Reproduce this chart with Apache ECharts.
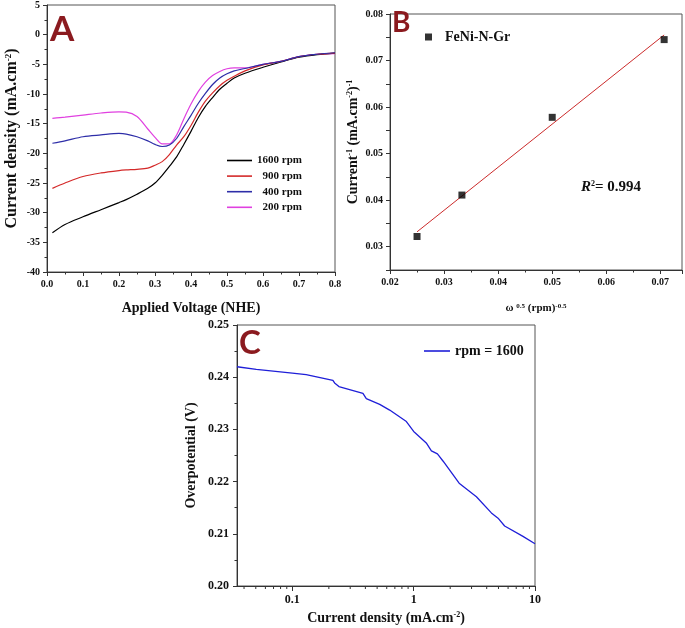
<!DOCTYPE html>
<html><head><meta charset="utf-8">
<script src="https://cdn.jsdelivr.net/npm/echarts/dist/echarts.min.js"></script>
<style>html,body{margin:0;padding:0;background:#fff}#c{width:685px;height:628px}</style>
</head><body><div id="c"></div>
<script>
// ---- Panel A: LSV curves ----
const voltage = [0.015,0.05,0.1,0.15,0.2,0.22,0.25,0.28,0.3,0.32,0.34,0.36,0.38,0.4,0.42,0.44,0.46,0.48,0.5,0.52,0.55,0.6,0.65,0.7,0.75,0.8];
const j1600 = [-33.4,-32.0,-30.7,-29.5,-28.3,-27.8,-26.9,-25.9,-25.0,-23.7,-22.2,-20.6,-18.5,-16.3,-14.0,-12.1,-10.6,-9.2,-8.2,-7.3,-6.5,-5.5,-4.6,-3.8,-3.35,-3.1];
const j900  = [-25.9,-25.0,-23.9,-23.3,-22.9,-22.8,-22.7,-22.5,-22.0,-21.4,-20.2,-18.6,-17.2,-15.3,-13.1,-11.2,-9.8,-8.6,-7.7,-7.0,-6.1,-5.1,-4.5,-3.7,-3.3,-3.1];
const j400  = [-18.3,-17.9,-17.2,-16.9,-16.65,-16.75,-17.2,-17.9,-18.5,-18.85,-18.6,-17.5,-15.5,-13.6,-11.6,-9.9,-8.4,-7.3,-6.6,-6.1,-5.7,-5.0,-4.5,-3.7,-3.3,-3.05];
const j200  = [-14.1,-13.9,-13.55,-13.2,-13.0,-13.05,-13.8,-15.9,-17.3,-18.4,-18.4,-16.9,-14.2,-11.7,-9.6,-8.0,-6.9,-6.2,-5.75,-5.6,-5.6,-5.0,-4.5,-3.7,-3.3,-3.2];
const seriesNamesA = ['1600 rpm','900 rpm','400 rpm','200 rpm'];
const xTicksA = [0,0.1,0.2,0.3,0.4,0.5,0.6,0.7,0.8];
const yTicksA = [-40,-35,-30,-25,-20,-15,-10,-5,0,5];

// ---- Panel B: Koutecky-Levich ----
const omega = [0.025,0.0333,0.05,0.0707];
const invCurrent = [0.0322,0.0411,0.0578,0.0745];
const fitX = [0.025,0.0707];
const fitY = [0.0332,0.0755];

// ---- Panel C: Tafel ----
const currentDensity = [0.035,0.0505,0.1,0.13,0.216,0.223,0.242,0.382,0.407,0.525,0.634,0.871,1,1.27,1.40,1.57,1.75,2.37,3.29,4.37,4.96,5.62,7.96,10];
const overpotential = [0.2420,0.2415,0.2408,0.2405,0.2394,0.2389,0.2382,0.2369,0.2359,0.2348,0.2337,0.2315,0.2296,0.2274,0.2259,0.2253,0.2239,0.2197,0.2171,0.2140,0.2130,0.2115,0.2095,0.2081];
const minorTicksC = [0.04,0.05,0.06,0.07,0.08,0.09,0.2,0.3,0.4,0.5,0.6,0.7,0.8,0.9,2,3,4,5,6,7,8,9];

const pairs = (xs, ys) => xs.map((x, i) => [x, ys[i]]);
const SERIF = 'Liberation Serif';
const axisCol = '#333';
const labelStyle = (size) => ({ color: '#111', fontFamily: SERIF, fontWeight: 'bold', fontSize: size });
const sup = (size) => ({ fontFamily: SERIF, fontWeight: 'bold', fontSize: size, verticalAlign: 'top', color: '#111' });

function baseAxis(extra) {
  return Object.assign({
    axisLine: { show: true, onZero: false, lineStyle: { color: axisCol, width: 1 } },
    axisTick: { show: true, inside: false, length: 4, lineStyle: { color: axisCol } },
    minorTick: { show: true, splitNumber: 2, length: 2.5, lineStyle: { color: axisCol } },
    splitLine: { show: false },
    minorSplitLine: { show: false }
  }, extra);
}

const chart = echarts.init(document.getElementById('c'), null, { renderer: 'canvas' });
const colorsA = ['#000000', '#d42a2a', '#2e2ea8', '#e040e0'];
const dataA = [j1600, j900, j400, j200];

const option = {
  animation: false,
  backgroundColor: '#fff',
  grid: [
    { left: 47, top: 5, width: 288, height: 267, show: true, borderColor: '#555', borderWidth: 1 },
    { left: 390, top: 14, width: 292, height: 256, show: true, borderColor: '#555', borderWidth: 1 },
    { left: 237, top: 325, width: 298, height: 261, show: true, borderColor: '#555', borderWidth: 1 }
  ],
  xAxis: [
    baseAxis({ gridIndex: 0, type: 'value', min: xTicksA[0], max: xTicksA[xTicksA.length-1], interval: 0.1,
      axisLabel: Object.assign(labelStyle(10), { margin: 7, formatter: v => v.toFixed(1) }),
      name: 'Applied Voltage (NHE)', nameLocation: 'middle', nameGap: 29,
      nameTextStyle: labelStyle(14) }),
    baseAxis({ gridIndex: 1, type: 'value', min: 0.02, max: 0.074, interval: 0.01,
      axisLabel: Object.assign(labelStyle(10), { margin: 7, showMaxLabel: false,
        formatter: v => (Math.abs(v*100 - Math.round(v*100)) < 1e-6 ? v.toFixed(2) : '') }),
      name: 'ω {s|0.5} (rpm){s|-0.5}', nameLocation: 'middle', nameGap: 33,
      nameTextStyle: Object.assign(labelStyle(11), { rich: { s: sup(7) } }) }),
    baseAxis({ gridIndex: 2, type: 'log', logBase: 10, min: 0.035, max: 10,
      minorTick: { show: false },
      axisTick: { show: true, inside: false, length: 5, lineStyle: { color: axisCol } },
      axisLabel: Object.assign(labelStyle(12), { margin: 8, showMinLabel: false,
        formatter: v => { const l = Math.log10(v); if (Math.abs(l - Math.round(l)) > 1e-6) return ''; return v >= 1 ? String(Math.round(v)) : v.toFixed(1); } }),
      name: 'Current density (mA.cm{s|-2})', nameLocation: 'middle', nameGap: 25,
      nameTextStyle: Object.assign(labelStyle(14), { rich: { s: sup(8) } }) })
  ],
  yAxis: [
    baseAxis({ gridIndex: 0, type: 'value', min: yTicksA[0], max: yTicksA[yTicksA.length-1], interval: 5,
      axisLabel: Object.assign(labelStyle(10), { margin: 7, formatter: v => String(v) }),
      name: 'Current density (mA.cm{s|-2})', nameLocation: 'middle', nameGap: 27,
      nameTextStyle: Object.assign(labelStyle(16), { rich: { s: sup(9) } }) }),
    baseAxis({ gridIndex: 1, type: 'value', min: 0.025, max: 0.08, interval: 0.005,
      minorTick: { show: false },
      axisLabel: Object.assign(labelStyle(10), { margin: 7,
        formatter: v => (Math.abs(v*100 - Math.round(v*100)) < 1e-6 ? v.toFixed(2) : '') }),
      name: 'Current{s|-1} (mA.cm{s|-2}){s|-1}', nameLocation: 'middle', nameGap: 30,
      nameTextStyle: Object.assign(labelStyle(14), { rich: { s: sup(8) } }) }),
    baseAxis({ gridIndex: 2, type: 'value', min: 0.2, max: 0.25, interval: 0.01,
      axisLabel: Object.assign(labelStyle(12), { margin: 8, formatter: v => v.toFixed(2) }),
      name: 'Overpotential (V)', nameLocation: 'middle', nameGap: 39,
      nameTextStyle: labelStyle(14) })
  ],
  legend: [
    { data: seriesNamesA.map(n => ({ name: n, icon: 'rect' })), orient: 'vertical', left: 222, top: 149,
      itemWidth: 25, itemHeight: 1.6, itemGap: 2.6,
      textStyle: Object.assign(labelStyle(11), { lineHeight: 13 }),
      formatter: n => (n.length < 8 ? '\u2007' + n : n) },
    { data: ['FeNi-N-Gr'], left: 420, top: 25, itemWidth: 7, itemHeight: 7,
      textStyle: Object.assign(labelStyle(14), { padding: [0, 0, 0, 8] }) },
    { data: [{ name: 'rpm = 1600', icon: 'rect' }], left: 419, top: 339, itemWidth: 26, itemHeight: 1.6,
      textStyle: labelStyle(14) }
  ],
  series: [
    ...[3, 0, 1, 2].map(i => ({
      name: seriesNamesA[i], type: 'line', xAxisIndex: 0, yAxisIndex: 0,
      data: pairs(voltage, dataA[i]), symbol: 'none', smooth: 0.3,
      lineStyle: { color: colorsA[i], width: 1.2 }, itemStyle: { color: colorsA[i] },
      z: i === 3 ? 2 : 3
    })),
    { name: 'fit', type: 'line', xAxisIndex: 1, yAxisIndex: 1, data: pairs(fitX, fitY), symbol: 'none',
      lineStyle: { color: '#cc2b2b', width: 1 }, itemStyle: { color: '#cc2b2b' } },
    { name: 'FeNi-N-Gr', type: 'scatter', xAxisIndex: 1, yAxisIndex: 1, data: pairs(omega, invCurrent),
      symbol: 'rect', symbolSize: 7, itemStyle: { color: '#000' }, z: 5 },
    { name: 'rpm = 1600', type: 'line', xAxisIndex: 2, yAxisIndex: 2, data: pairs(currentDensity, overpotential),
      symbol: 'none', lineStyle: { color: '#1f1fd8', width: 1.3 }, itemStyle: { color: '#1f1fd8' } },
    { name: 'minorTicksC', type: 'custom', xAxisIndex: 2, yAxisIndex: 2, silent: true, clip: false,
      data: minorTicksC.map(v => [v, 0.2]),
      renderItem: (params, api) => {
        const p = api.coord([api.value(0), api.value(1)]);
        return { type: 'line', shape: { x1: p[0], y1: p[1], x2: p[0], y2: p[1] + 3 },
                 style: { stroke: axisCol, lineWidth: 1 } };
      } }
  ],
  graphic: [
    { type: 'text', left: 50, top: 12, style: { text: 'A', fill: '#8b1a1f', font: 'bold 35px Lato' } },
    { type: 'text', left: 392, top: 9, style: { text: 'B', fill: '#8b1a1f', font: 'bold 28px Lato' } },
    { type: 'text', left: 239, top: 327, style: { text: 'C', fill: '#8b1a1f', font: 'bold 33px Lato' } },
    { type: 'text', left: 581, top: 180, style: {
      text: '{r|R}{s|2}{t|= 0.994}',
      rich: { r: { fontFamily: SERIF, fontWeight: 'bold', fontStyle: 'italic', fontSize: 15, fill: '#111' },
              s: { fontFamily: SERIF, fontWeight: 'bold', fontSize: 8, verticalAlign: 'top', fill: '#111' },
              t: { fontFamily: SERIF, fontWeight: 'bold', fontSize: 15, fill: '#111' } } } }
  ]
};
chart.setOption(option);
</script></body></html>
